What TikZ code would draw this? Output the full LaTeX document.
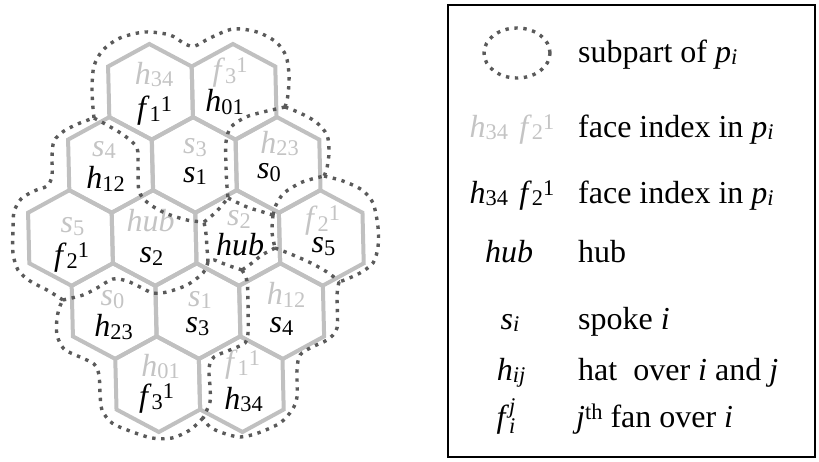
\documentclass[tikz,border=0pt]{standalone}
\usepackage{fontspec}
\setmainfont{Liberation Serif}[ItalicFont=Liberation Serif Italic]
\usetikzlibrary{shapes.geometric}
\definecolor{hexgray}{RGB}{192,192,192}
\definecolor{lblgray}{RGB}{196,196,196}
\definecolor{dotgray}{RGB}{90,90,90}
\newcommand\lsb[1]{\raisebox{-0.09em}{\fontsize{22.4}{22.4}\selectfont #1}}
\newcommand\lsp[1]{\raisebox{0.24em}{\fontsize{22.4}{22.4}\selectfont #1}}
\newcommand\hexcell[2]{\draw[hexline] (#1,#2-47.8) -- (#1+41.8,#2-25.3) -- (#1+41.8,#2+25.3) -- (#1,#2+47.8) -- (#1-41.8,#2+25.3) -- (#1-41.8,#2-25.3) -- cycle;}
\begin{document}
\begin{tikzpicture}[x=1pt,y=-1pt,
  every node/.style={font=\fontsize{32}{38}\selectfont, inner sep=0pt},
  hexline/.style={draw=hexgray, line width=4pt},
  subpart/.style={draw=dotgray, line width=3.4pt, dash pattern=on 3.4pt off 5.6pt},
  glbl/.style={text=lblgray},
  blbl/.style={text=black},
  legtext/.style={anchor=base west},
  legsym/.style={anchor=base}]
\useasboundingbox (0,0) rectangle (819,461);
% hexagon lattice (slightly slanted)
\begin{scope}[xshift=-5.855pt, xslant=-0.0246]
\hexcell{154.1}{91.8}\hexcell{237.7}{91.8}
\hexcell{112.3}{164.9}\hexcell{196.1}{164.9}\hexcell{279.9}{164.9}
\hexcell{70.5}{238}\hexcell{154.1}{238}\hexcell{237.7}{238}\hexcell{321.3}{238}
\hexcell{112.3}{311.1}\hexcell{196.1}{311.1}\hexcell{279.9}{311.1}
\hexcell{154.1}{384.2}\hexcell{237.7}{384.2}
\end{scope}
% labels
\node[glbl] (g11) at (154,74.5) {\textit{h}\lsb{34}};
\node[blbl] (b11) at (154.5,111) {\textit{f}\lsb{1}\lsp{1}};
\node[glbl] (g12) at (230,72.5) {\textit{f}\lsb{3}\lsp{1}};
\node[blbl] (b12) at (224.5,102) {\textit{h}\lsb{01}};
\node[glbl] (g21) at (104,150) {\textit{s}\lsb{4}};
\node[blbl] (b21) at (105.5,178.5) {\textit{h}\lsb{12}};
\node[glbl] (g22) at (195,147.5) {\textit{s}\lsb{3}};
\node[blbl] (b22) at (195,176) {\textit{s}\lsb{1}};
\node[glbl] (g23) at (279.5,143.5) {\textit{h}\lsb{23}};
\node[blbl] (b23) at (269,172.5) {\textit{s}\lsb{0}};
\node[glbl] (g31) at (72.5,227) {\textit{s}\lsb{5}};
\node[blbl] (b31) at (71.5,257.5) {\textit{f}\lsb{2}\lsp{1}};
\node[glbl] (g32) at (150.5,221) {\textit{hub}};
\node[blbl] (b32) at (151.5,256.5) {\textit{s}\lsb{2}};
\node[glbl] (g33) at (239,219.5) {\textit{s}\lsb{2}};
\node[blbl] (b33) at (240,245) {\textit{hub}};
\node[glbl] (g34) at (322.5,220.5) {\textit{f}\lsb{2}\lsp{1}};
\node[blbl] (b34) at (323.5,246.5) {\textit{s}\lsb{5}};
\node[glbl] (g41) at (112.5,299.5) {\textit{s}\lsb{0}};
\node[blbl] (b41) at (113.5,327) {\textit{h}\lsb{23}};
\node[glbl] (g42) at (200,300) {\textit{s}\lsb{1}};
\node[blbl] (b42) at (197.5,326.5) {\textit{s}\lsb{3}};
\node[glbl] (g43) at (286,295) {\textit{h}\lsb{12}};
\node[blbl] (b43) at (281.5,326.5) {\textit{s}\lsb{4}};
\node[glbl] (g51) at (160.5,366.5) {\textit{h}\lsb{01}};
\node[blbl] (b51) at (156.5,398.5) {\textit{f}\lsb{3}\lsp{1}};
\node[glbl] (g52) at (242.5,365) {\textit{f}\lsb{1}\lsp{1}};
\node[blbl] (b52) at (243.5,399.5) {\textit{h}\lsb{34}};
% junctions of the subpart boundaries
\coordinate (J1) at (94,118);
\coordinate (J2) at (285,107);
\coordinate (J3) at (324,176);
\coordinate (J4) at (63,300);
\coordinate (J5) at (203,418);
\coordinate (J6) at (339,282);
\coordinate (Ja) at (204,222);
\coordinate (Jb) at (228,198);
\coordinate (Jc) at (273,215);
\coordinate (Jd) at (275,248);
\coordinate (Je) at (242,270);
\coordinate (Jf) at (208,262);
% outer boundary
\draw[subpart] plot[smooth] coordinates {(J1) (93,108) (92,88) (94,66) (103,50) (120,38) (145,32) (170,35) (185,44) (195,46) (210,38) (233,29) (257,32) (276,42) (286,56) (289,75) (288,95) (J2)};
\draw[subpart] plot[smooth] coordinates {(J2) (300,113) (316,122) (327,135) (329,152) (327,168) (J3)};
\draw[subpart] plot[smooth] coordinates {(J3) (343,181) (362,190) (373,203) (378,227) (378,247) (373,263) (360,273) (347,279) (J6)};
\draw[subpart] plot[smooth] coordinates {(J6) (337,295) (337,328) (327,340) (312,347) (300,355) (297,370) (297,397) (292,410) (280,423) (258,433) (240,437) (223,433) (210,427) (J5)};
\draw[subpart] plot[smooth] coordinates {(J5) (190,430) (172,438) (152,438) (130,431) (112,423) (102,410) (100,393) (99,375) (94,364) (80,357) (64,349) (57,335) (57,318) (60,306) (J4)};
\draw[subpart] plot[smooth] coordinates {(J4) (47,290) (30,281) (18,270) (13,253) (13,230) (14,212) (21,199) (34,191) (47,186) (52,176) (52,157) (54,141) (64,131) (80,123) (J1)};
% inner boundaries
\draw[subpart] plot[smooth] coordinates {(J1) (107,125) (125,136) (137,148) (138,167) (139,191) (148,203) (165,213) (187,220) (Ja)};
\draw[subpart] plot[smooth] coordinates {(J2) (263,112) (246,117) (231,127) (226,142) (226,167) (227,187) (Jb)};
\draw[subpart] plot[smooth] coordinates {(Ja) (216,212) (Jb)};
\draw[subpart] plot[smooth] coordinates {(Jb) (247,207) (263,212) (Jc)};
\draw[subpart] plot[smooth] coordinates {(Jc) (276,205) (284,193) (300,183) (312,179) (J3)};
\draw[subpart] plot[smooth] coordinates {(Jc) (272,232) (Jd)};
\draw[subpart] plot[smooth] coordinates {(Jd) (293,255) (313,264) (330,274) (J6)};
\draw[subpart] plot[smooth] coordinates {(Jd) (262,255) (252,263) (Je)};
\draw[subpart] plot[smooth] coordinates {(Je) (227,265) (214,260) (Jf)};
\draw[subpart] plot[smooth] coordinates {(Jf) (207,248) (206,234) (Ja)};
\draw[subpart] plot[smooth] coordinates {(Jf) (203,273) (187,285) (167,292) (153,293) (140,287) (127,281) (113,279) (97,288) (83,295) (J4)};
\draw[subpart] plot[smooth] coordinates {(Je) (247,281) (248,303) (248,333) (245,343) (230,350) (214,357) (209,368) (210,387) (210,402) (J5)};
% legend
\node[draw=black, line width=2pt, minimum width=367pt, minimum height=452pt] (legend) at (631.5,231) {};
\node[ellipse, subpart, minimum width=66pt, minimum height=50pt] (lsub) at (517,53) {};
\node[legtext] (tsub) at (578,62) {subpart of \textit{p}\lsb{\textit{i}}};
\node[legsym, text=lblgray] (sgray) at (512,137) {\textit{h}\lsb{34}\hspace{0.35em}\textit{f}\lsb{2}\lsp{1}};
\node[legtext] (tgray) at (578,137) {face index in \textit{p}\lsb{\textit{i}}};
\node[legsym] (sblack) at (512,203) {\textit{h}\lsb{34}\hspace{0.35em}\textit{f}\lsb{2}\lsp{1}};
\node[legtext] (tblack) at (578,203) {face index in \textit{p}\lsb{\textit{i}}};
\node[legsym] (shub) at (509,262) {\textit{hub}};
\node[legtext] (thub) at (578,262) {hub};
\node[legsym] (sspoke) at (510,329) {\textit{s}\lsb{\textit{i}}};
\node[legtext] (tspoke) at (578,329) {spoke \textit{i}};
\node[legsym] (shat) at (511,380) {\textit{h}\lsb{\textit{ij}}};
\node[legtext] (that) at (578,380) {hat~ over \textit{i} and \textit{j}};
\node[legsym] (sfan) at (506,427) {\textit{f}\rlap{\raisebox{-0.2em}{\fontsize{22.4}{22.4}\selectfont\textit{i}}}\raisebox{0.42em}{\fontsize{22.4}{22.4}\selectfont\textit{j}}};
\node[legtext] (tfan) at (576,427) {\textit{j}\lsp{th} fan over \textit{i}};
\end{tikzpicture}
\end{document}
